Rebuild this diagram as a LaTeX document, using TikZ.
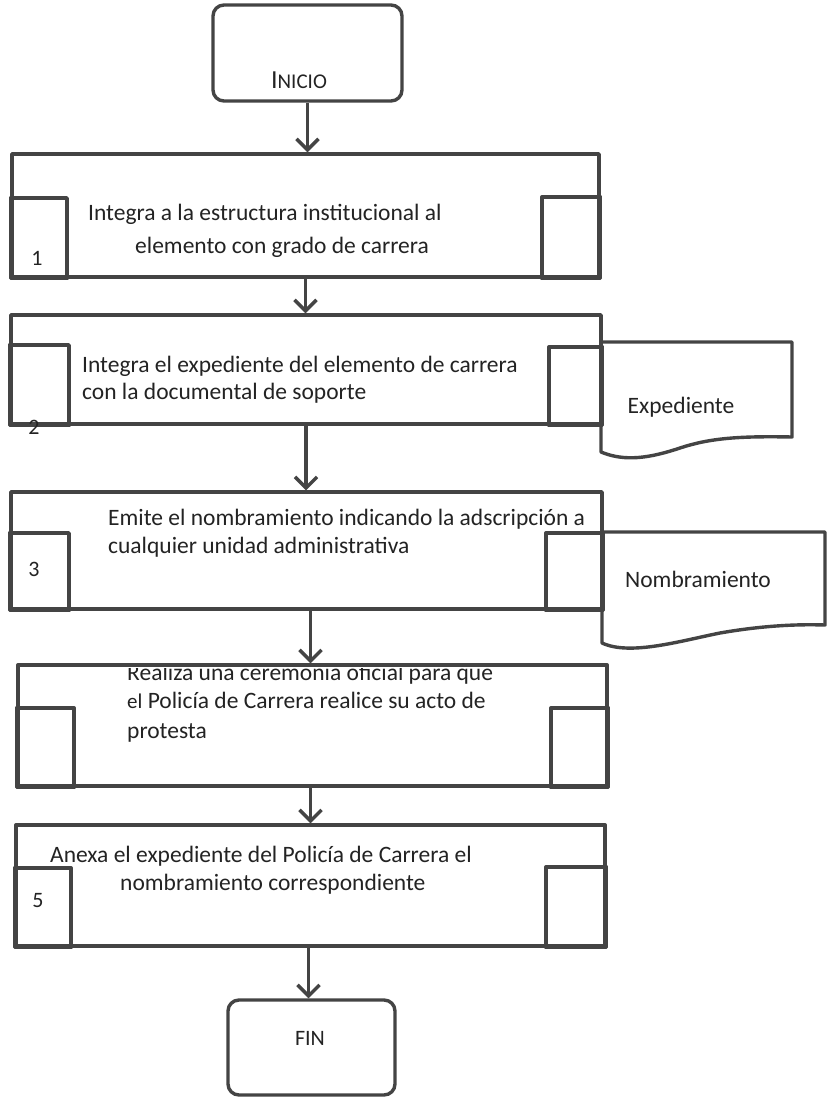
\documentclass[tikz,border=0pt]{standalone}
\usepackage{fontspec}
\setmainfont{Carlito}
\usetikzlibrary{arrows.meta,fit}
\definecolor{lc}{RGB}{68,68,68}
\definecolor{tc}{RGB}{35,35,35}
\begin{document}
\begin{tikzpicture}[x=1pt,y=-1pt,
  ln/.style={draw=lc, line width=3.4pt, line join=round},
  box/.style={ln, inner sep=0pt, fit=#1},
  term/.style={ln, rounded corners=11pt, inner sep=0pt, fit=#1},
  txt/.style={text=tc, font=\fontsize{23.5}{28}\selectfont, inner sep=0pt, text height=11pt, text depth=0pt, anchor=west},
  num/.style={text=tc, font=\fontsize{22}{26}\selectfont, inner sep=0pt},
  arr/.style={draw=lc, line width=3.6pt, -{Straight Barb[length=11pt,width=22pt,line width=3.4pt]}}
]
\useasboundingbox (0,0) rectangle (828,1099);
\fill[white] (0,0) rectangle (828,1099);

% corner points
\coordinate (i1) at (213,5);   \coordinate (i2) at (402,101);
\coordinate (p1a) at (12,154); \coordinate (p1b) at (599,277);
\coordinate (p2a) at (11,315); \coordinate (p2b) at (601,424);
\coordinate (p3a) at (11,492); \coordinate (p3b) at (602,609);
\coordinate (p4a) at (18,665); \coordinate (p4b) at (607,786);
\coordinate (p5a) at (16,825); \coordinate (p5b) at (605,946);
\coordinate (f1) at (228,1000); \coordinate (f2) at (395,1095);

% terminals
\node[term={(i1)(i2)}] (inicio) {};
\node[text=tc, inner sep=0pt] (iniciot) at (299,80) {{\fontsize{26}{30}\selectfont I}{\fontsize{21}{25}\selectfont NICIO}};
\node[term={(f1)(f2)}] (fin) {};
\node[text=tc, inner sep=0pt, font=\fontsize{22}{26}\selectfont] (fint) at (310,1038) {FIN};

% process boxes
\node[box={(p1a)(p1b)}] (b1) {};
\node[box={(p2a)(p2b)}] (b2) {};
\node[box={(p3a)(p3b)}] (b3) {};
\node[box={(p4a)(p4b)}] (b4) {};
\node[box={(p5a)(p5b)}] (b5) {};

% inner squares
\draw[ln] (b1.south west) rectangle (67,198);
\draw[ln] (b1.south east) rectangle (542,197);
\draw[ln] (b2.south west) rectangle (69,345);
\draw[ln] (b2.south east) rectangle (549,347);
\draw[ln] (b3.south west) rectangle (69,533);
\draw[ln] (b3.south east) rectangle (546,533);
\draw[ln] (b4.south west) rectangle (74,708);
\draw[ln] (b4.south east) rectangle (551,708);
\draw[ln] (b5.south west) rectangle (71,868);
\draw[ln] (b5.south east) rectangle (546,867);

% documents
\draw[ln] (601,342) coordinate (d1nw) -- (792,342) -- (792,437)
  .. controls (740,436) and (710,438) .. (680,448)
  .. controls (650,458) and (625,462) .. (601,452) -- cycle;
\node[txt, anchor=center] (d1t) at (681,408) {Expediente};
\draw[ln] (602,532) coordinate (d2nw) -- (825,532) -- (825,625)
  .. controls (795,624) and (760,626) .. (720,633)
  .. controls (680,641) and (630,656) .. (602,643) -- cycle;
\node[txt, anchor=center] (d2t) at (698,582) {Nombramiento};

% step numbers
\node[num] (n1) at (37,258) {1};
\node[num] (n2) at (34,427) {2};
\node[num] (n3) at (34,569) {3};
\node[num] (n5) at (38,901) {5};

% texts
\node[txt] (t1a) at (88,215) {Integra a la estructura institucional al};
\node[txt] (t1b) at (135,248) {elemento con grado de carrera};
\node[txt] (t2a) at (82,367) {Integra el expediente del elemento de carrera};
\node[txt] (t2b) at (82,394) {con la documental de soporte};
\node[txt] (t3a) at (108,520) {Emite el nombramiento indicando la adscripción a};
\node[txt] (t3b) at (108,548) {cualquier unidad administrativa};
\begin{scope}
  \clip (0,668.5) rectangle (828,700);
  \node[txt] (t4a) at (127,675) {Realiza una ceremonia oficial para que};
\end{scope}
\node[txt] (t4b) at (127,703) {{\fontsize{21}{25}\selectfont el} Policía de Carrera realice su acto de};
\node[txt] (t4c) at (127,733) {protesta};
\node[txt] (t5a) at (50,857) {Anexa el expediente del Policía de Carrera el};
\node[txt] (t5b) at (120,885) {nombramiento correspondiente};

% connectors
\draw[arr] (inicio.south) -- (inicio.south |- b1.north);
\draw[arr] (b1.south) -- (b1.south |- b2.north);
\draw[arr] (b2.south) -- (b2.south |- b3.north);
\draw[arr] (b3.south) ++(4,0) coordinate (c3) (c3) -- (c3 |- b4.north);
\draw[arr] (b4.south) ++(-2,0) coordinate (c4) (c4) -- (c4 |- b5.north);
\draw[arr] (b5.south) ++(-2,0) coordinate (c5) (c5) -- (c5 |- fin.north);
\end{tikzpicture}
\end{document}
